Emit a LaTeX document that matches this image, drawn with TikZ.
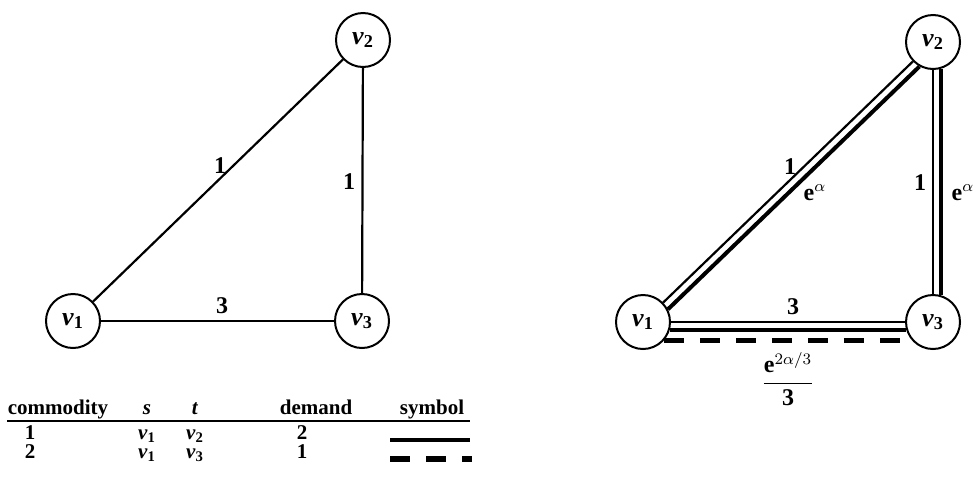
\documentclass[tikz,border=0pt]{standalone}
\usepackage{amsmath}
\usepackage{fontspec}
\setmainfont{Liberation Serif}
\usetikzlibrary{positioning}
\newcommand{\vtx}[1]{\textit{v}\textsubscript{#1}}

\begin{document}
\begin{tikzpicture}[
  x=0.5pt, y=-0.5pt,
  vert/.style={draw, circle, line width=1pt, minimum size=27pt, inner sep=0pt, font=\bfseries\fontsize{13}{15}\selectfont},
  edge/.style={line width=1.1pt},
  comone/.style={line width=2pt},
  comtwo/.style={line width=2.6pt, dash pattern=on 10pt off 8pt},
  lbl/.style={font=\bfseries\fontsize{12}{14}\selectfont, inner sep=1pt},
  cell/.style={font=\bfseries\fontsize{10.5}{12}\selectfont, anchor=base, inner sep=0pt}
]
\useasboundingbox (0,0) rectangle (977,483);

% left graph
\node[vert] (a1) at (73,321) {\vtx{1}};
\node[vert] (a2) at (363,40) {\vtx{2}};
\node[vert] (a3) at (362,321) {\vtx{3}};
\draw[edge] (a1) -- (a2);
\draw[edge] (a2) -- (a3);
\draw[edge] (a1) -- (a3);
\node[lbl] (la12) at (220,166) {1};
\node[lbl] (la23) at (349,182) {1};
\node[lbl] (la13) at (222,306) {3};

% right graph
\node[vert] (b1) at (643,322) {\vtx{1}};
\node[vert] (b2) at (933,42) {\vtx{2}};
\node[vert] (b3) at (933,322) {\vtx{3}};
\draw[edge] (b1) -- (b2);
\draw[edge] (b2) -- (b3);
\draw[edge] (b1) -- (b3);
\draw[comone] (b1.27) -- (b2.241);
\draw[comone] (b3.73) -- (b2.-73);
\draw[comone] (b1.-17) -- (b3.-163);
\draw[comtwo] (b1.-42) -- (b3.-138);
\node[lbl] (lb12) at (790,167) {1};
\node[lbl] (wb12) at (815,193) {e$^{\alpha}$};
\node[lbl] (lb23) at (920,183) {1};
\node[lbl] (wb23) at (963,193) {e$^{\alpha}$};
\node[lbl] (lb13) at (793,307) {3};
\node[lbl] (wb13) at (788,379) {$\dfrac{\mbox{e}^{2\alpha/3}}{\mbox{3}}$};

% commodity table
\node[cell] (hcom) at (58,414) {commodity};
\node[cell] (hs) at (147,414) {\textit{s}};
\node[cell] (ht) at (195,414) {\textit{t}};
\node[cell] (hdem) at (316,414) {demand};
\node[cell] (hsym) at (432,414) {symbol};
\draw[line width=0.8pt] (hcom.base west) ++(0,7) coordinate (ulA) -- (470,421) coordinate (ulB);

\node[cell] (c1) at (30,439) {1};
\node[cell] (s1) at (147,439) {\vtx{1}};
\node[cell] (t1) at (195,439) {\vtx{2}};
\node[cell] (d1) at (302,439) {2};
\coordinate (m1a) at (390,440);
\coordinate (m1b) at (470,440);
\draw[comone] (m1a) -- (m1b);

\node[cell] (c2) at (30,458) {2};
\node[cell] (s2) at (147,458) {\vtx{1}};
\node[cell] (t2) at (195,458) {\vtx{3}};
\node[cell] (d2) at (302,458) {1};
\coordinate (m2a) at (390,459);
\coordinate (m2b) at (472,459);
\draw[comtwo] (m2a) -- (m2b);
\end{tikzpicture}
\end{document}
